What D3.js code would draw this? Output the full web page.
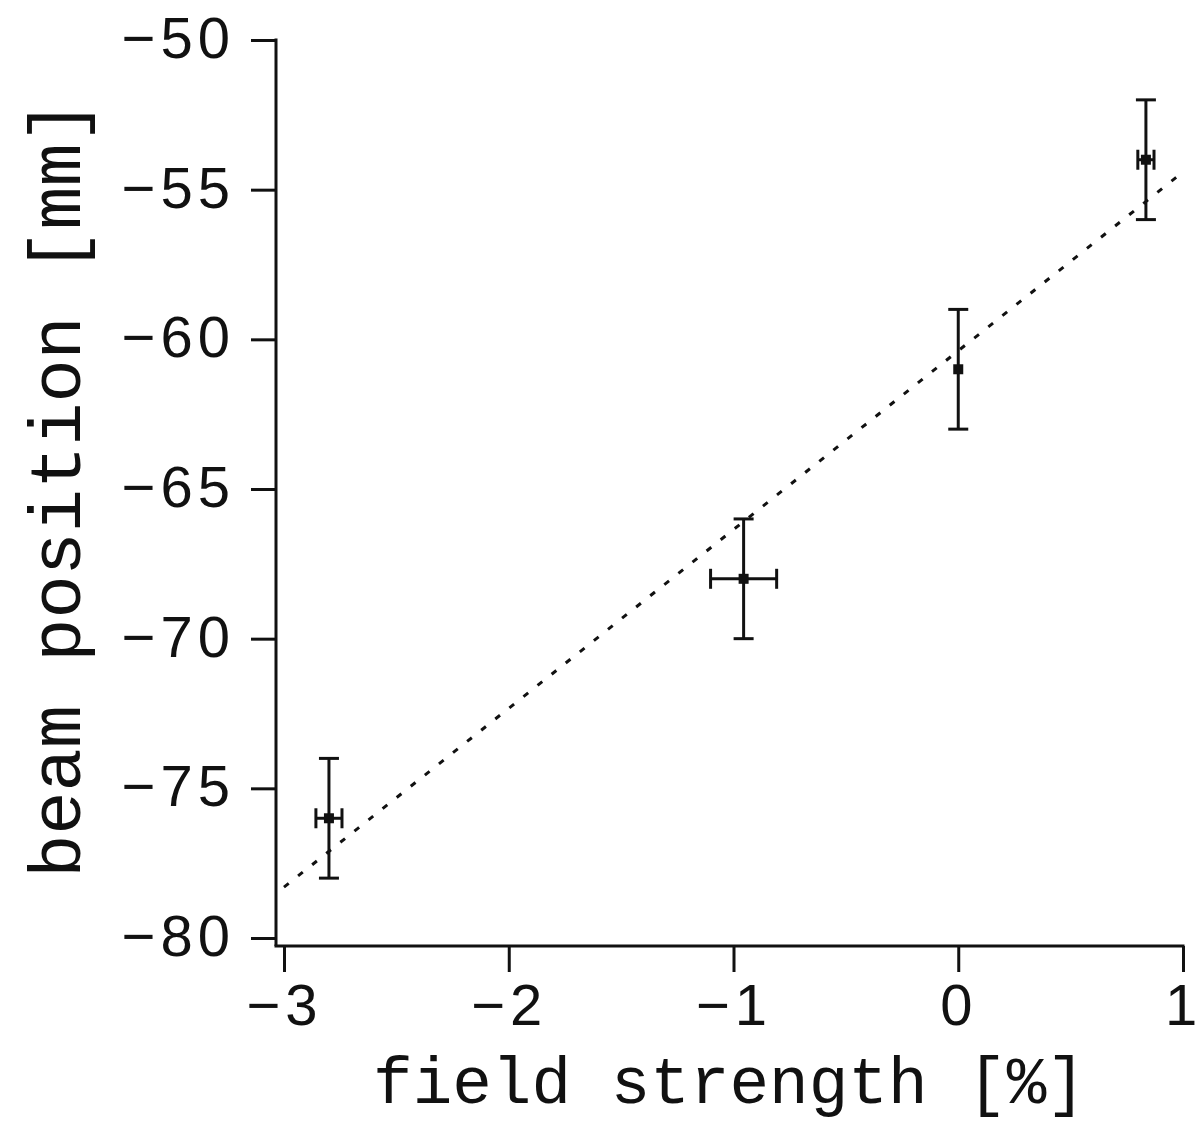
<!DOCTYPE html>
<html>
<head>
<meta charset="utf-8">
<script src="https://cdn.jsdelivr.net/npm/d3@7"></script>
<style>
  html, body { margin: 0; padding: 0; background: #fff; }
  svg { display: block; }
</style>
</head>
<body>
<svg id="chart" width="1203" height="1124"></svg>
<script>
// ---- data ----
const fieldStrength = [-2.80, -0.955, 0.0, 0.835];   // x values [%]
const beamPosition  = [-76, -68, -61, -54];          // y values [mm]
const xErrors       = [0.058, 0.147, 0.0, 0.036];
const yErrors       = [2, 2, 2, 2];
const fitX          = [-3, 1];
const fitY          = [-78.3, -54.41];
const xTicks        = [-3, -2, -1, 0, 1];
const yTicks        = [-80, -75, -70, -65, -60, -55, -50];
const xTitle        = "field strength [%]";
const yTitle        = "beam position [mm]";

// ---- layout ----
const svg = d3.select("#chart");
const black = "#111";
const x = d3.scaleLinear().domain([-3, 1]).range([284, 1183]);
const y = d3.scaleLinear().domain([-80, -50]).range([938, 40]);
const axisX = 276, axisY = 946;

const fmt = d => (d < 0 ? "\u2212" + Math.abs(d) : String(d));

// y axis
const gy = svg.append("g").attr("transform", `translate(${axisX},0)`)
  .call(d3.axisLeft(y).tickValues(yTicks).tickSize(25).tickPadding(16).tickFormat(fmt));
gy.select(".domain").remove();
gy.append("line").attr("x1", 0).attr("x2", 0).attr("y1", y(-50) - 1.5).attr("y2", axisY)
  .attr("stroke", black).attr("stroke-width", 3);
gy.selectAll(".tick line").attr("stroke", black).attr("stroke-width", 3);
gy.selectAll(".tick text")
  .attr("font-family", "'Liberation Sans', Arial, sans-serif")
  .attr("font-size", 58).attr("letter-spacing", 5).attr("fill", black)
  .attr("dy", "0.3em");

// x axis
const gx = svg.append("g").attr("transform", `translate(0,${axisY})`)
  .call(d3.axisBottom(x).tickValues(xTicks).tickSize(26).tickPadding(12).tickFormat(fmt));
gx.select(".domain").remove();
gx.append("line").attr("x1", axisX - 1.5).attr("x2", x(1) + 1.5).attr("y1", 0).attr("y2", 0)
  .attr("stroke", black).attr("stroke-width", 3);
gx.selectAll(".tick line").attr("stroke", black).attr("stroke-width", 3);
gx.selectAll(".tick text")
  .attr("font-family", "'Liberation Sans', Arial, sans-serif")
  .attr("font-size", 58).attr("letter-spacing", 5).attr("fill", black)
  .attr("dy", "0.71em");

// titles
svg.append("text")
  .attr("x", (axisX + x(1)) / 2).attr("y", 1103)
  .attr("text-anchor", "middle")
  .attr("font-family", "'Liberation Mono', 'Courier New', monospace")
  .attr("font-size", 66).attr("fill", black)
  .text(xTitle);

svg.append("text")
  .attr("transform", `translate(80,${(40 + axisY) / 2 - 4}) rotate(-90)`)
  .attr("text-anchor", "middle")
  .attr("font-family", "'Liberation Mono', 'Courier New', monospace")
  .attr("font-size", 72).attr("fill", black)
  .text(yTitle);

// fit line (dotted)
svg.append("path")
  .datum(fitX.map((d, i) => [d, fitY[i]]))
  .attr("d", d3.line().x(d => x(d[0])).y(d => y(d[1])))
  .attr("fill", "none").attr("stroke", black).attr("stroke-width", 3)
  .attr("stroke-dasharray", "6,12");

// error bars and markers
const pts = fieldStrength.map((d, i) => ({ x: d, y: beamPosition[i], ex: xErrors[i], ey: yErrors[i] }));
const g = svg.append("g").attr("stroke", black).attr("stroke-width", 3);
const cap = 10;
pts.forEach(p => {
  const cx = x(p.x), cy = y(p.y);
  g.append("line").attr("x1", cx).attr("x2", cx).attr("y1", y(p.y - p.ey)).attr("y2", y(p.y + p.ey));
  g.append("line").attr("x1", cx - cap).attr("x2", cx + cap).attr("y1", y(p.y + p.ey)).attr("y2", y(p.y + p.ey));
  g.append("line").attr("x1", cx - cap).attr("x2", cx + cap).attr("y1", y(p.y - p.ey)).attr("y2", y(p.y - p.ey));
  if (p.ex > 0) {
    g.append("line").attr("x1", x(p.x - p.ex)).attr("x2", x(p.x + p.ex)).attr("y1", cy).attr("y2", cy);
    g.append("line").attr("x1", x(p.x - p.ex)).attr("x2", x(p.x - p.ex)).attr("y1", cy - cap).attr("y2", cy + cap);
    g.append("line").attr("x1", x(p.x + p.ex)).attr("x2", x(p.x + p.ex)).attr("y1", cy - cap).attr("y2", cy + cap);
  }
  svg.append("rect").attr("x", cx - 5).attr("y", cy - 5).attr("width", 10).attr("height", 10)
    .attr("fill", black);
});
</script>
</body>
</html>
